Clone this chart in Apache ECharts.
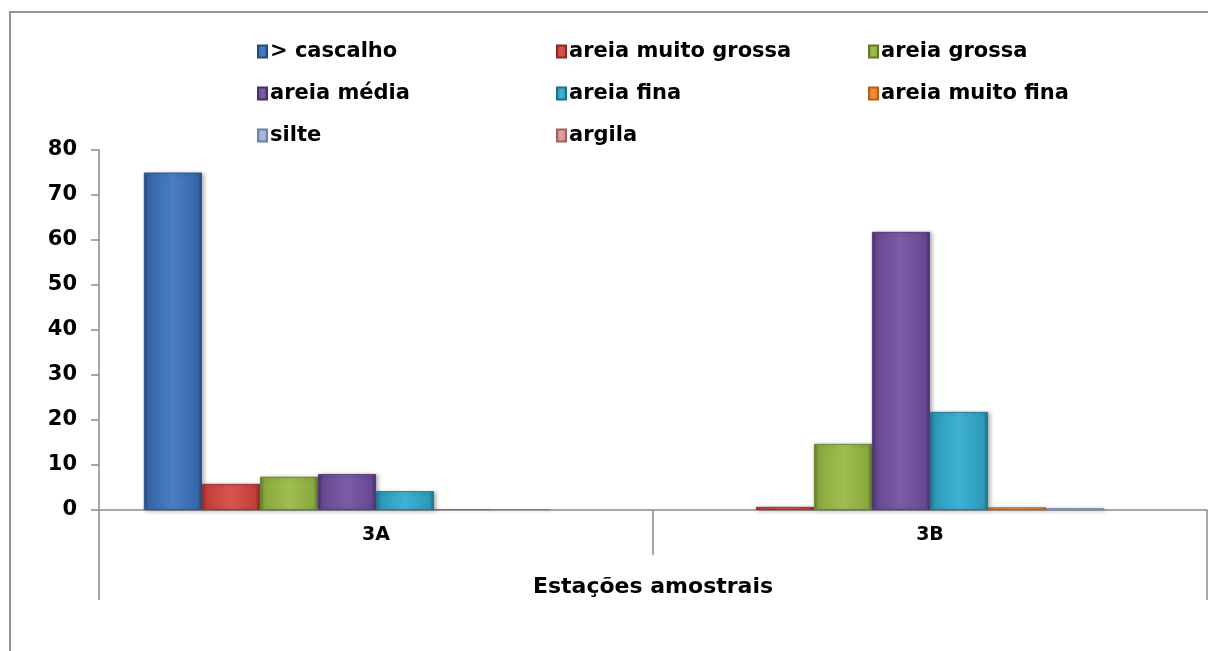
<!DOCTYPE html>
<html>
<head>
<meta charset="utf-8">
<script src="https://cdn.jsdelivr.net/npm/echarts@6/dist/echarts.min.js"></script>
<style>
  html, body { margin: 0; padding: 0; background: #fff; }
  #chart { width: 1208px; height: 651px; }
</style>
</head>
<body>
<div id="chart"></div>
<script>
// Granulometria por estação amostral (%)
const estacoes = ['3A', '3B'];
const tituloEixo = 'Estações amostrais';
const yTicks = { min: 0, max: 80, interval: 10 };

const cascalho = [75, 0];
const areiaMuitoGrossa = [5.8, 0.7];
const areiaGrossa = [7.4, 14.7];
const areiaMedia = [8.0, 61.8];
const areiaFina = [4.2, 21.8];
const areiaMuitoFina = [0.2, 0.6];
const silte = [0.2, 0.4];
const argila = [0, 0];

const FONT = 'DejaVu Sans';

// name, values, base colour, light, dark
const classes = [
  ['> cascalho', cascalho, '#3667a8', '#4a7fc4', '#234a80'],
  ['areia muito grossa', areiaMuitoGrossa, '#c23f3b', '#d8554f', '#8e2723'],
  ['areia grossa', areiaGrossa, '#8aa93e', '#9fbf52', '#627a26'],
  ['areia média', areiaMedia, '#674891', '#7b5ca8', '#47306a'],
  ['areia fina', areiaFina, '#2d99ba', '#40b2d4', '#1d6f88'],
  ['areia muito fina', areiaMuitoFina, '#e47d2b', '#f0923f', '#b35d16'],
  ['silte', silte, '#93a9d0', '#a9bde0', '#6c82aa'],
  ['argila', argila, '#cf8b89', '#dea09e', '#a0605e']
];

function bevel(base, light, dark) {
  return {
    type: 'linear', x: 0, y: 0, x2: 1, y2: 0,
    colorStops: [
      { offset: 0, color: dark },
      { offset: 0.08, color: base },
      { offset: 0.5, color: light },
      { offset: 0.92, color: base },
      { offset: 1, color: dark }
    ]
  };
}

const series = classes.map(([name, values, base, light, dark]) => ({
  name,
  type: 'bar',
  // a zero share leaves no visible bar
  data: values.map(v => v === 0 ? { value: v, itemStyle: { opacity: 0 } } : v),
  barGap: '0%',
  barCategoryGap: '16.2%',
  itemStyle: {
    color: bevel(base, light, dark),
    borderColor: dark,
    borderWidth: 0.8,
    shadowBlur: 4,
    shadowOffsetX: 2,
    shadowOffsetY: 1,
    shadowColor: 'rgba(0,0,0,0.28)'
  },
  emphasis: { disabled: true }
}));

const legendCols = [
  { left: 252, names: ['> cascalho', 'areia média', 'silte'] },
  { left: 551, names: ['areia muito grossa', 'areia fina', 'argila'] },
  { left: 863, names: ['areia grossa', 'areia muito fina'] }
];

const legends = legendCols.map(c => ({
  orient: 'vertical',
  left: c.left,
  top: 36,
  itemGap: 21,
  itemWidth: 9,
  itemHeight: 12,
  icon: 'rect',
  data: c.names,
  selectedMode: false,
  textStyle: { fontFamily: FONT, fontWeight: 'bold', fontSize: 21, color: '#000', padding: [0, 0, 0, -2] }
}));

const axisGray = '#8a8a8a';

const option = {
  animation: false,
  backgroundColor: '#fff',
  graphic: [{
    type: 'rect',
    shape: { x: 10, y: 12, width: 1400, height: 800 },
    style: { fill: 'none', stroke: '#949494', lineWidth: 2 },
    silent: true
  }],
  legend: legends,
  grid: { left: 99, right: 1, top: 150, bottom: 141, containLabel: false },
  xAxis: [{
    type: 'category',
    data: estacoes,
    position: 'bottom',
    axisLine: { lineStyle: { color: axisGray, width: 1.5 } },
    axisTick: { show: true, length: 45, lineStyle: { color: axisGray, width: 1.5 } },
    axisLabel: { fontFamily: FONT, fontWeight: 'bold', fontSize: 19, color: '#000', margin: 16 }
  }, {
    type: 'category',
    data: [tituloEixo],
    position: 'bottom',
    offset: 45,
    axisLine: { show: false },
    axisTick: { show: true, length: 45, lineStyle: { color: axisGray, width: 1.5 } },
    axisLabel: { fontFamily: FONT, fontWeight: 'bold', fontSize: 22, color: '#000', margin: 21 }
  }],
  yAxis: {
    type: 'value',
    min: yTicks.min,
    max: yTicks.max,
    interval: yTicks.interval,
    axisLine: { show: true, lineStyle: { color: axisGray, width: 1.5 } },
    axisTick: { show: true, length: 8, lineStyle: { color: axisGray, width: 1.5 } },
    splitLine: { show: false },
    axisLabel: { fontFamily: FONT, fontWeight: 'bold', fontSize: 21, color: '#000', margin: 22 }
  },
  series
};

const chart = echarts.init(document.getElementById('chart'), null, { renderer: 'canvas' });
chart.setOption(option);
</script>
</body>
</html>
